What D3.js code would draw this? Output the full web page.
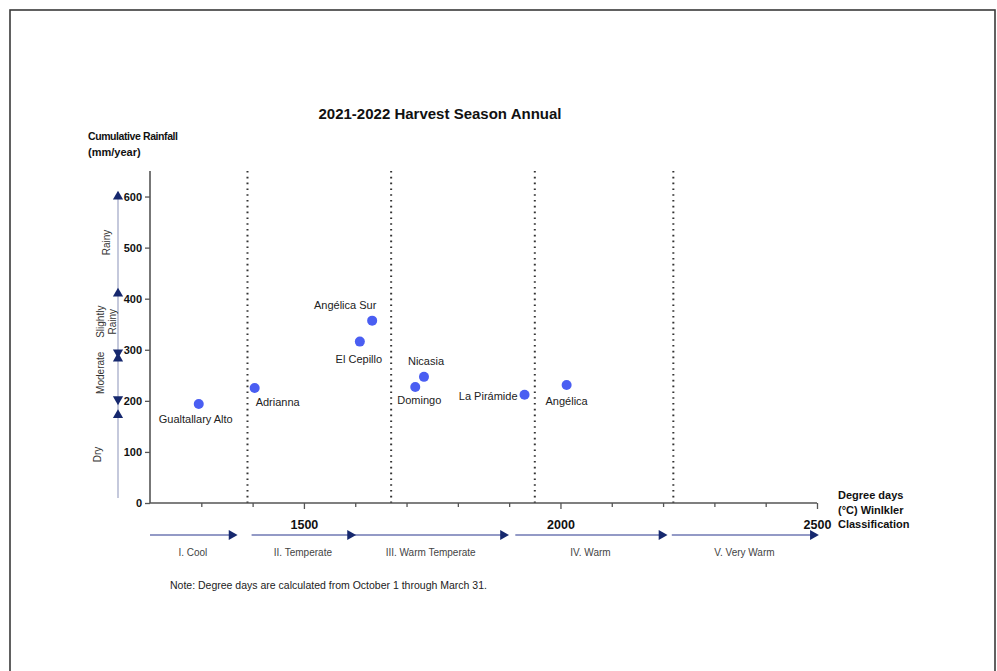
<!DOCTYPE html>
<html>
<head>
<meta charset="utf-8">
<script src="https://cdn.jsdelivr.net/npm/d3@7"></script>
<style>
  body { margin: 0; background: #fff; }
  svg text { font-family: "Liberation Sans", Arial, sans-serif; }
</style>
</head>
<body>
<div id="chart"></div>
<script>
// vineyards: degree days (x) and cumulative rainfall (y)
var sites = ["Gualtallary Alto", "Adrianna", "Angélica Sur", "El Cepillo", "Nicasia", "Domingo", "La Pirámide", "Angélica"];
var degreeDays = [1295, 1404, 1633, 1609, 1734, 1717, 1930, 2012];
var rainfall = [194, 225, 357, 316, 247, 227, 212, 231];
// label placement relative to point: [dx, dy, anchor]
var labelPos = [[-3, 19, "middle"], [1, 18, "start"], [-27, -12, "middle"], [-1, 21, "middle"], [2, -12, "middle"], [4, 17, "middle"], [-7, 5, "end"], [0, 20, "middle"]];

// Winkler region boundaries (dotted lines)
var winklerBounds = [1390, 1670, 1950, 2220];
// Winkler class arrows along the x axis
var winklerNames = ["I. Cool", "II. Temperate", "III. Warm Temperate", "IV. Warm", "V. Very Warm"];
var winklerFrom = [1200, 1398, 1598, 1912, 2217];
var winklerTo = [1367, 1598, 1896, 2205, 2500];

// rainfall classes on the left
var rainNames = [["Rainy"], ["Slightly", "Rainy"], ["Moderate"], ["Dry"]];
var rainMid = [510, 355, 255, 95];
var rainArrowVals = [600, 410, 295, 283, 203, 172];
var rainArrowDir = ["up", "up", "down", "up", "down", "up"];

var xTicks = [1200, 1300, 1400, 1500, 1600, 1700, 1800, 1900, 2000, 2100, 2200, 2300, 2400, 2500];
var xMajor = [1500, 2000, 2500];
var yTicks = [0, 100, 200, 300, 400, 500, 600];

var W = 997, H = 671;
var svg = d3.select('#chart').append('svg').attr('width', W).attr('height', H);

// page frame
svg.append('rect').attr('x', 10).attr('y', 10).attr('width', 985).attr('height', 700)
    .attr('fill', 'none').attr('stroke', '#3a3a3a').attr('stroke-width', 1.6);

var scaleX = d3.scaleLinear().domain([1200, 2500]).range([150, 817]);
var scaleY = d3.scaleLinear().domain([0, 650]).range([503, 171]);

var navy = '#16286e';

// title
svg.append('text').attr('x', 440).attr('y', 119).attr('text-anchor', 'middle')
    .attr('font-size', 15).attr('font-weight', 'bold').attr('fill', '#111')
    .attr('textLength', 243).text('2021-2022 Harvest Season Annual');

svg.append('text').attr('x', 88).attr('y', 140).attr('font-size', 10.5).attr('font-weight', 'bold')
    .attr('fill', '#111').attr('textLength', 90).text('Cumulative Rainfall');
svg.append('text').attr('x', 88).attr('y', 156).attr('font-size', 11).attr('font-weight', 'bold')
    .attr('fill', '#111').text('(mm/year)');

// dotted Winkler boundaries
svg.append('g').selectAll('line').data(winklerBounds).enter().append('line')
    .attr('x1', function(d) { return scaleX(d); }).attr('x2', function(d) { return scaleX(d); })
    .attr('y1', scaleY(650)).attr('y2', scaleY(0))
    .attr('stroke', '#333').attr('stroke-width', 2).attr('stroke-dasharray', '1.6,4.2');

// axes
var axisY = d3.axisLeft(scaleY).tickValues(yTicks).tickSize(5).tickPadding(3);
var gy = svg.append('g').attr('class', 'axis axis-y').attr('transform', 'translate(150,0)').call(axisY);
gy.select('.domain').attr('d', 'M0,' + scaleY(650) + 'V' + scaleY(0));

var axisX = d3.axisBottom(scaleX).tickValues(xTicks).tickSize(4)
    .tickFormat(function(d) { return xMajor.indexOf(d) >= 0 ? d : ''; });
var gx = svg.append('g').attr('class', 'axis axis-x').attr('transform', 'translate(0,503)').call(axisX);
gx.select('.domain').attr('d', 'M150,0H817');
gx.selectAll('.tick').filter(function(d) { return d === 1200; }).select('line').remove();
gx.selectAll('.tick').filter(function(d) { return xMajor.indexOf(d) >= 0; }).select('line').attr('y2', 6);
gx.selectAll('.tick text').attr('dy', '1.55em');

svg.selectAll('.axis .domain').attr('stroke', '#555').attr('stroke-width', 1.6);
svg.selectAll('.axis .tick line').attr('stroke', '#555').attr('stroke-width', 1.3);
svg.selectAll('.axis text').attr('font-family', '"Liberation Sans", Arial, sans-serif')
    .attr('font-weight', 'bold').attr('fill', '#111');
gy.selectAll('text').attr('font-size', 11);
gx.selectAll('text').attr('font-size', 12.5);

// x axis title
var xt = svg.append('text').attr('x', 838).attr('y', 499).attr('font-size', 11)
    .attr('font-weight', 'bold').attr('fill', '#111');
["Degree days", "(\u00B0C) Winlkler", "Classification"].forEach(function(t, i) {
    xt.append('tspan').attr('x', 838).attr('dy', i === 0 ? 0 : 14.5).text(t);
});

// rainfall class arrows
svg.append('line').attr('x1', 118).attr('x2', 118).attr('y1', scaleY(10)).attr('y2', scaleY(600))
    .attr('stroke', '#c5c9dc').attr('stroke-width', 2);
var tri = d3.symbol().type(d3.symbolTriangle).size(45);
svg.append('g').selectAll('path').data(rainArrowVals).enter().append('path')
    .attr('d', tri)
    .attr('fill', navy)
    .attr('transform', function(d, i) {
        return 'translate(118,' + scaleY(d) + ')' + (rainArrowDir[i] === 'down' ? ' rotate(180)' : '');
    });
var rl = svg.append('g').selectAll('text').data(rainNames).enter().append('text')
    .attr('transform', function(d, i) {
        var x = d.length > 1 ? 104 : (i === 0 ? 110 : 104);
        if (i === 3) x = 101;
        return 'translate(' + x + ',' + scaleY(rainMid[i]) + ') rotate(-90)';
    })
    .attr('text-anchor', 'middle').attr('font-size', 10).attr('fill', '#333');
rl.each(function(d) {
    var t = d3.select(this);
    d.forEach(function(s, j) {
        t.append('tspan').attr('x', 0).attr('dy', j === 0 ? 0 : 12).text(s);
    });
});

// Winkler class arrows
var wg = svg.append('g');
wg.selectAll('line').data(winklerNames).enter().append('line')
    .attr('x1', function(d, i) { return scaleX(winklerFrom[i]); })
    .attr('x2', function(d, i) { return scaleX(winklerTo[i]) - 6; })
    .attr('y1', 535).attr('y2', 535)
    .attr('stroke', '#6f78b3').attr('stroke-width', 1.4);
wg.selectAll('path').data(winklerNames).enter().append('path')
    .attr('d', tri)
    .attr('fill', navy)
    .attr('transform', function(d, i) { return 'translate(' + (scaleX(winklerTo[i]) - 4) + ',535) rotate(90)'; });
wg.selectAll('text').data(winklerNames).enter().append('text')
    .attr('x', function(d, i) { return (scaleX(winklerFrom[i]) + scaleX(winklerTo[i])) / 2; })
    .attr('y', 556).attr('text-anchor', 'middle').attr('font-size', 10).attr('fill', '#444')
    .text(function(d) { return d; });

// points
var pg = svg.append('g');
pg.selectAll('circle').data(sites).enter().append('circle')
    .attr('cx', function(d, i) { return scaleX(degreeDays[i]); })
    .attr('cy', function(d, i) { return scaleY(rainfall[i]); })
    .attr('r', 5).attr('fill', '#4a5ef2');
pg.selectAll('text').data(sites).enter().append('text')
    .attr('x', function(d, i) { return scaleX(degreeDays[i]) + labelPos[i][0]; })
    .attr('y', function(d, i) { return scaleY(rainfall[i]) + labelPos[i][1]; })
    .attr('text-anchor', function(d, i) { return labelPos[i][2]; })
    .attr('font-size', 11).attr('fill', '#222')
    .text(function(d) { return d; });

// note
svg.append('text').attr('x', 170).attr('y', 589).attr('font-size', 10.5).attr('fill', '#222')
    .text('Note: Degree days are calculated from October 1 through March 31.');
</script>
</body>
</html>
